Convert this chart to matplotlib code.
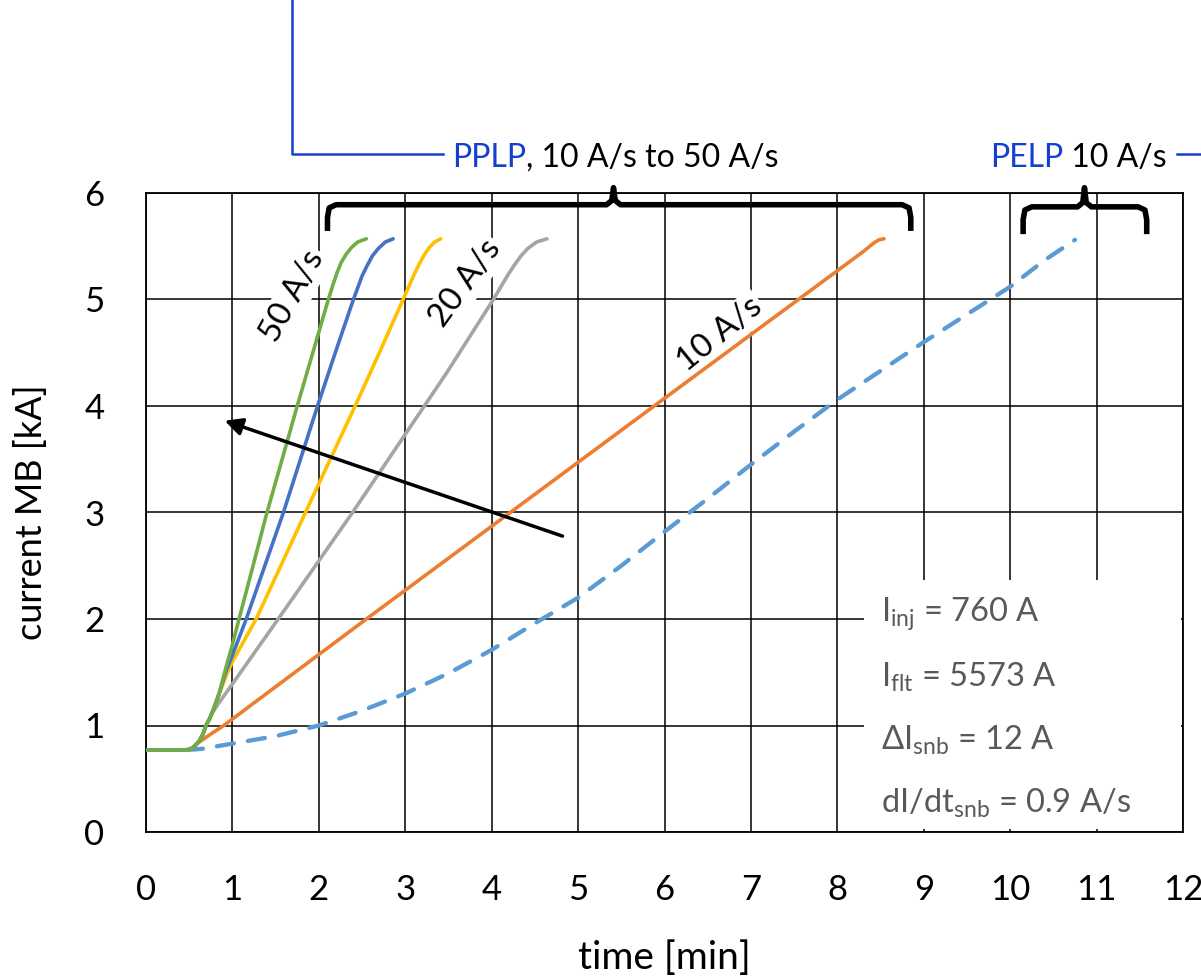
import matplotlib
matplotlib.use("Agg")
import matplotlib.pyplot as plt
from matplotlib.lines import Line2D

plt.rcParams['font.family'] = ['Lato', 'DejaVu Sans']
plt.rcParams['mathtext.fontset'] = 'custom'
plt.rcParams['mathtext.rm'] = 'Lato'
plt.rcParams['mathtext.it'] = 'Lato:italic'

# ramp curves (time in min, current in kA)
t_start = [0, 0.46, 0.50, 0.54, 0.58]
i_start = [0.77, 0.77, 0.775, 0.79, 0.82]

t_50 = t_start + [0.62, 0.66, 0.695, 0.74, 0.78, 0.85, 0.92, 1.0, 1.07, 1.2, 1.29, 1.40, 1.53, 1.75, 1.93, 2.11,
                  2.16, 2.21, 2.26, 2.32, 2.38, 2.45, 2.55]
i_50 = i_start + [0.86, 0.92, 1.0, 1.07, 1.15, 1.31, 1.53, 1.76, 1.98, 2.38, 2.66, 3.0, 3.37, 4.0, 4.5, 5.0,
                  5.13, 5.25, 5.35, 5.43, 5.49, 5.54, 5.57]
t_40 = t_start + [0.62, 0.66, 0.695, 0.74, 0.78, 0.85, 0.92, 1.0, 1.16, 1.59, 1.985, 2.19, 2.40,
                  2.45, 2.50, 2.56, 2.62, 2.69, 2.77, 2.86]
i_40 = i_start + [0.86, 0.92, 1.0, 1.07, 1.15, 1.31, 1.50, 1.66, 2.0, 3.0, 4.0, 4.5, 5.0,
                  5.11, 5.22, 5.32, 5.41, 5.48, 5.54, 5.57]
t_30 = t_start + [0.62, 0.66, 0.695, 0.74, 0.78, 0.85, 0.92, 1.0, 1.275, 1.845, 2.42, 2.70, 2.975,
                  3.04, 3.10, 3.16, 3.22, 3.28, 3.34, 3.41]
i_30 = i_start + [0.86, 0.92, 1.0, 1.07, 1.15, 1.30, 1.45, 1.6, 2.0, 3.0, 4.0, 4.5, 5.0,
                  5.12, 5.23, 5.33, 5.42, 5.49, 5.54, 5.57]
t_20 = t_start + [0.62, 0.66, 0.695, 0.76, 0.85, 1.0, 1.53, 2.39, 3.47, 4.02,
                  4.10, 4.18, 4.26, 4.34, 4.42, 4.52, 4.64]
i_20 = i_start + [0.86, 0.92, 1.0, 1.11, 1.22, 1.39, 2.0, 3.0, 4.3, 5.0,
                  5.11, 5.22, 5.32, 5.41, 5.48, 5.54, 5.57]
t_10 = t_start + [0.61, 0.68, 0.75, 0.90, 2.60, 5.88, 8.30, 8.36, 8.42, 8.48, 8.54]
i_10 = i_start + [0.84, 0.88, 0.92, 1.0, 2.03, 4.0, 5.45, 5.49, 5.53, 5.56, 5.57]
t_pelp = [0.46, 0.64, 1.0, 1.5, 2.0, 2.47, 3.0, 3.5, 4.0, 4.5, 5.0, 5.5, 6.0, 6.5, 7.0, 7.5, 8.0, 8.5, 9.0, 9.5, 10.0, 10.4, 10.75]
i_pelp = [0.77, 0.78, 0.83, 0.9, 1.0, 1.13, 1.3, 1.49, 1.71, 1.96, 2.2, 2.5, 2.82, 3.13, 3.45, 3.76, 4.06, 4.33, 4.6, 4.86, 5.12, 5.37, 5.56]

info_lines = [r"I$_{\mathrm{inj}}$ = 760 A", r"I$_{\mathrm{flt}}$ = 5573 A",
              r"$\Delta$I$_{\mathrm{snb}}$ = 12 A", r"dI/dt$_{\mathrm{snb}}$ = 0.9 A/s"]

fig = plt.figure(figsize=(12.01, 9.8), dpi=100)
ax = fig.add_axes([146/1201, 1-832/980, (1183-146)/1201, (832-193)/980])

ax.plot(t_pelp, i_pelp, color='#5b9bd5', lw=3.1, ls=(0, (4, 3.3)),
        dash_capstyle='round', zorder=4)
for t, i, c in [(t_10, i_10, '#ed7d31'), (t_20, i_20, '#a5a5a5'), (t_30, i_30, '#ffc000'),
                (t_40, i_40, '#4472c4'), (t_50, i_50, '#70ad47')]:
    ax.plot(t, i, color=c, lw=2.6, zorder=4, solid_capstyle='round',
            solid_joinstyle='round')

ax.set_xlim(0, 12)
ax.set_ylim(0, 6)
ax.set_xticks(range(0, 13))
ax.set_yticks(range(0, 7))
ax.grid(True, color='#000000', lw=1.1)
ax.set_axisbelow(True)
ax.tick_params(length=0, labelsize=25)
ax.tick_params(axis='x', pad=30)
ax.tick_params(axis='y', pad=30)
for s in ax.spines.values():
    s.set_linewidth(1.3)
ax.set_xlabel("time [min]", fontsize=28, va='center')
ax.set_ylabel("current MB [kA]", fontsize=26, va='center')
ax.xaxis.set_label_coords(0.5, (832 - 958) / 639)
ax.yaxis.set_label_coords((31 - 146) / 1037, 0.5)

# rate labels with white background
lab = dict(fontsize=24, ha='center', va='center', zorder=3,
           bbox=dict(facecolor='white', edgecolor='none', pad=2))
ax.text(1.70, 5.03, "50 A/s", rotation=61, **lab)
ax.text(3.70, 5.15, "20 A/s", rotation=54, **lab)
ax.text(6.64, 4.67, "10 A/s", rotation=39, **lab)

# arrow
ax.annotate("", xy=(0.88, 3.87), xytext=(4.85, 2.77),
            arrowprops=dict(arrowstyle='-|>', color='black', lw=2.5, mutation_scale=26),
            zorder=6)

# parameter box
ax.add_patch(plt.Rectangle((8.31, 0.03), 12 - 8.31 - 0.02, 2.34, facecolor='white',
                           edgecolor='none', zorder=2))
for k, s in enumerate(info_lines):
    ax.text(8.5, 2.05 - k * 0.595, s, fontsize=23.5, color='#595959', va='center', zorder=5)

# curly braces above the curves
def brace(x0, x1, yb, yend, ytip, xc):
    rx, ry = 0.1, 0.12
    xs = [x0, x0, x0 + 0.02, x0 + rx, xc - 0.08, xc - 0.02, xc, xc + 0.02, xc + 0.08,
          x1 - rx, x1 - 0.02, x1, x1]
    ys = [yend, yb - ry, yb - 0.03, yb, yb, yb + 0.04, ytip, yb + 0.04, yb,
          yb, yb - 0.03, yb - ry, yend]
    ax.plot(xs, ys, color='black', lw=4, clip_on=False, zorder=6,
            solid_joinstyle='round')

brace(2.10, 8.85, 5.89, 5.67, 6.05, 5.41)
brace(10.15, 11.58, 5.87, 5.64, 6.05, 10.86)

# top annotations (figure pixels)
def fx(px):
    return px / 1201
def fy(py):
    return 1 - py / 980

blue = '#1440cc'
fig.add_artist(Line2D([fx(292), fx(292), fx(443)], [fy(0), fy(154), fy(154)],
                      color=blue, lw=1.8))
fig.add_artist(Line2D([fx(1177), fx(1201)], [fy(154), fy(154)], color=blue, lw=1.8))

r = fig.canvas.get_renderer()
t1 = fig.text(fx(452), fy(167), "PPLP", color=blue, fontsize=23, va='baseline')
w = t1.get_window_extent(r).width
fig.text(fx(452) + w / 1201, fy(167), ", 10 A/s to 50 A/s", color='black',
         fontsize=23, va='baseline')
t2 = fig.text(fx(990), fy(167), "PELP", color=blue, fontsize=23, va='baseline')
w2 = t2.get_window_extent(r).width
fig.text(fx(990) + w2 / 1201, fy(167), " 10 A/s", color='black', fontsize=23,
         va='baseline')

fig.savefig("out.png", dpi=100)
